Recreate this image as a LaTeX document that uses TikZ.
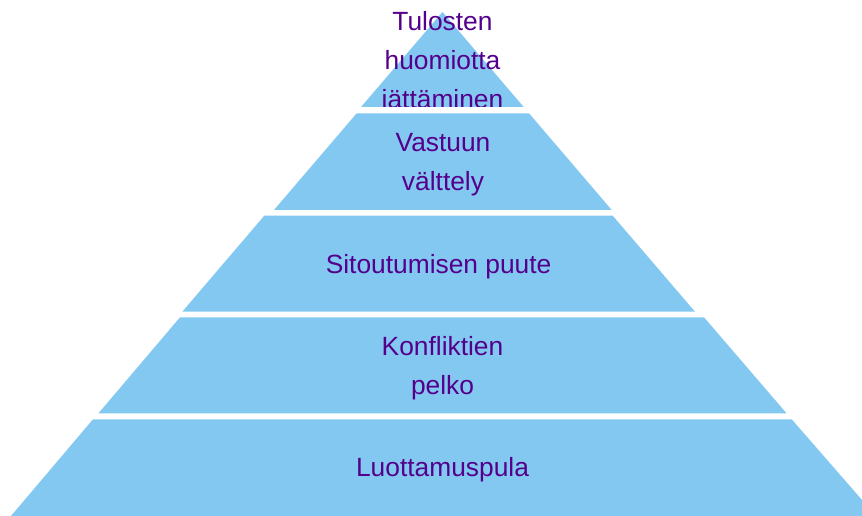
\documentclass[tikz,border=0pt]{standalone}
\usepackage{fontspec}
\setmainfont{Liberation Sans}
\usetikzlibrary{positioning}

\definecolor{levelblue}{RGB}{131,200,240}
\definecolor{levelpurple}{RGB}{84,0,140}

\begin{document}
\begin{tikzpicture}[x=0.02cm, y=-0.02cm,
    % Styles
    level/.style={fill=levelblue, draw=none},
    leveltext/.style={text=levelpurple, font=\fontsize{15}{22.2}\selectfont, align=center, inner sep=0pt},
]

% Canvas
\useasboundingbox (0,0) rectangle (862,516);
\clip (0,0) rectangle (862,516);

% Level 1 - top triangle
\fill[level] (442.5,12) -- (523.7,107) -- (361,107) -- cycle;
\begin{scope}
    \clip (0,0) rectangle (862,107);
    \node[leveltext] (results) at (442.5,63) {Tulosten\\huomiotta\\jättäminen};
\end{scope}

% Level 2
\fill[level] (356.7,113.3) -- (529,113.3) -- (611.7,210) -- (274,210) -- cycle;
\node[leveltext] (accountability) at (443,165) {Vastuun\\välttely};

% Level 3
\fill[level] (264.3,215.7) -- (612.7,215.7) -- (695,311.7) -- (182.3,311.7) -- cycle;
\node[leveltext] (commitment) at (438.6,266.5) {Sitoutumisen puute};

% Level 4
\fill[level] (180,317.3) -- (704,317.3) -- (786.7,413.5) -- (98.3,413.5) -- cycle;
\node[leveltext] (conflict) at (442.5,368.5) {Konfliktien\\pelko};

% Level 5 - base
\fill[level] (93,419.3) -- (791.7,419.3) -- (876,516) -- (11,516) -- cycle;
\node[leveltext] (trust) at (442.5,470) {Luottamuspula};

\end{tikzpicture}
\end{document}
